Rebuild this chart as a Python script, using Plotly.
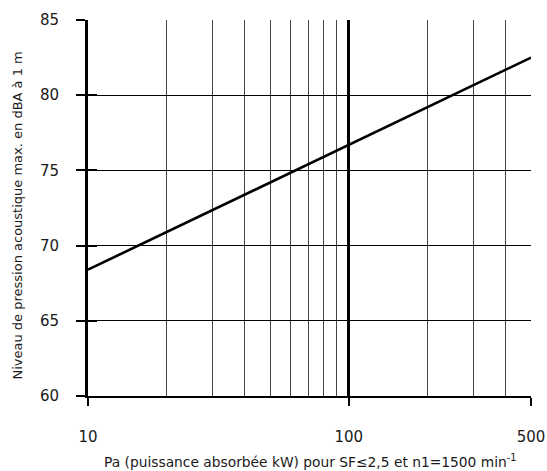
import plotly.graph_objects as go

power_kw = [10, 100, 500]
noise_dba = [68.4, 76.7, 82.5]

x_major = [10, 100, 500]
x_major_text = ["10", "100", "500"]
x_minor = [20, 30, 40, 50, 60, 70, 80, 90, 200, 300, 400, 500]
y_ticks = [60, 65, 70, 75, 80, 85]

x_title = "Pa (puissance absorbée kW) pour SF≤2,5 et n1=1500 min<sup>-1</sup>"
y_title = "Niveau de pression acoustique max. en dBA à 1 m"

font_family = "'DejaVu Sans', sans-serif"

fig = go.Figure()
fig.add_trace(go.Scatter(x=power_kw, y=noise_dba, mode="lines",
                         line=dict(color="black", width=2.6),
                         showlegend=False, hoverinfo="skip"))
fig.add_trace(go.Scatter(x=[10, 500], y=[60, 60], mode="lines",
                         line=dict(width=0), xaxis="x2", yaxis="y2",
                         showlegend=False, hoverinfo="skip"))

fig.update_layout(
    width=547, height=471,
    margin=dict(l=88, r=16, t=20, b=75),
    paper_bgcolor="white", plot_bgcolor="white",
    font=dict(family=font_family, color="#1a1a1a"),
    xaxis=dict(
        type="log", range=[1, 2.69897], automargin=False,
        tickvals=x_major, ticktext=x_major_text,
        showgrid=False, zeroline=False,
        showline=True, linecolor="black", linewidth=2,
        ticks="outside", ticklen=8, tickwidth=2, tickcolor="black",
        ticklabelstandoff=18,
        tickfont=dict(size=15),
        minor=dict(tickvals=x_minor, showgrid=True, gridcolor="#444444",
                   gridwidth=1, ticks=""),
    ),
    xaxis2=dict(
        type="log", range=[1, 2.69897], overlaying="x", side="bottom",
        anchor="y", automargin=False,
        tickvals=[100], showticklabels=False,
        showgrid=True, gridcolor="black", gridwidth=3,
        ticks="outside", ticklen=8, tickwidth=2, tickcolor="black",
        zeroline=False, showline=False,
    ),
    yaxis=dict(
        range=[60, 85], tickvals=y_ticks, automargin=False,
        showgrid=True, gridcolor="black", gridwidth=1,
        zeroline=False,
        showline=True, linecolor="black", linewidth=3,
        ticks="outside", ticklen=9, tickwidth=2, tickcolor="black",
        ticklabelstandoff=14,
        tickfont=dict(size=15),
    ),
    yaxis2=dict(
        range=[60, 85], tickvals=y_ticks, overlaying="y", side="left",
        anchor="x", automargin=False,
        showgrid=False, zeroline=False, showline=False,
        showticklabels=False,
        ticks="inside", ticklen=9, tickwidth=2, tickcolor="black",
    ),
    annotations=[
        dict(text=x_title, xref="paper", yref="paper", x=0.5, y=-0.172,
             xanchor="center", yanchor="middle", showarrow=False,
             font=dict(size=13.8)),
        dict(text=y_title, xref="paper", yref="paper", x=-0.158, y=0.48,
             xanchor="center", yanchor="middle", textangle=-90,
             showarrow=False, font=dict(size=13)),
    ],
)

fig.write_html("out.html", config={"displayModeBar": False},
               post_script="document.body.style.margin='0';document.body.style.padding='0';")
